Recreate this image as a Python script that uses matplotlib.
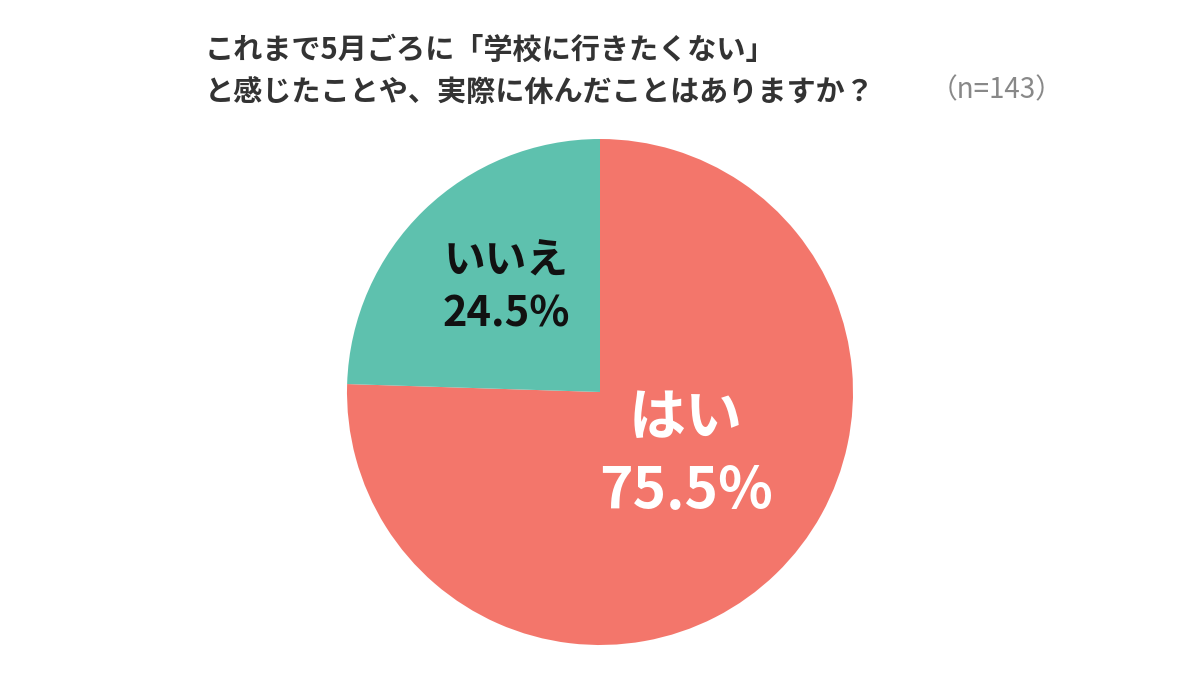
import matplotlib.pyplot as plt

plt.rcParams['font.family'] = ['Noto Sans CJK JP', 'DejaVu Sans']

labels = ["はい", "いいえ"]
values = [75.5, 24.5]
colors = ["#F3766B", "#5EC1AE"]

fig = plt.figure(figsize=(12, 6.75), dpi=100)
W, H = 1200, 675
cx, cy, r = 600, 392, 253
ax = fig.add_axes([(cx - r) / W, (H - cy - r) / H, 2 * r / W, 2 * r / H])
ax.pie(values, colors=colors, startangle=90, counterclock=False, radius=1,
       wedgeprops=dict(linewidth=0))
ax.set_xlim(-1, 1)
ax.set_ylim(-1, 1)
ax.set_aspect("equal")
ax.axis("off")

# wedge labels
def px(x, y):
    return ((x - cx) / r, (cy - y) / r)

ax.text(*px(686, 455), f"{labels[0]}\n{values[0]}%", ha="center", va="center",
        fontsize=41, fontweight="bold", color="white", linespacing=1.35)
ax.text(*px(506, 288), f"{labels[1]}\n{values[1]}%", ha="center", va="center",
        fontsize=30, fontweight="bold", color="#111111", linespacing=1.35)

fig.text(205 / W, 1 - 50 / H, "これまで5月ごろに「学校に行きたくない」",
         fontsize=21, fontweight="bold", color="#333333", va="center")
fig.text(205 / W, 1 - 92 / H, "と感じたことや、実際に休んだことはありますか？",
         fontsize=21, fontweight="bold", color="#333333", va="center")
fig.text(930 / W, 1 - 90 / H, "（n=143）", fontsize=20, color="#888888", va="center")

fig.savefig("out.png", dpi=100)
